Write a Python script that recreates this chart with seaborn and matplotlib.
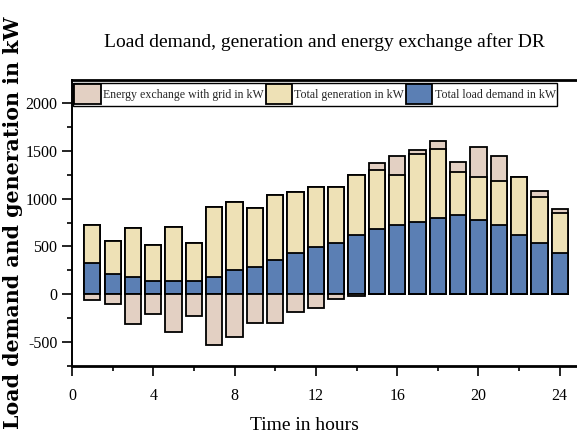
import numpy as np
import pandas as pd
import matplotlib
matplotlib.use("Agg")
import matplotlib.pyplot as plt
from matplotlib.ticker import MultipleLocator, FormatStrFormatter
import seaborn as sns

# Hourly profile after demand response (kW)
hours = list(range(1, 25))
load_kw = [325, 217, 178, 143, 143, 143, 178, 252, 287, 356, 433, 489,
           538, 615, 681, 720, 758, 800, 828, 772, 720, 615, 538, 433]
generation_kw = [398, 342, 514, 367, 559, 392, 737, 716, 614, 685, 636, 636,
                 587, 632, 622, 527, 713, 723, 447, 454, 461, 608, 479, 416]
exchange_kw = [-56, -105, -314, -203, -391, -227, -535, -447, -300, -300, -185, -147,
               -45, -21, 67, 196, 42, 77, 112, 315, 262, 0, 66, 42]

df = pd.DataFrame({"hour": hours, "load": load_kw,
                   "generation": generation_kw, "exchange": exchange_kw})
# Stacked layout: load at the bottom, generation above it, grid import on top,
# grid export hanging below zero.
df["gen_top"] = df["load"] + df["generation"]
df["import_top"] = df["gen_top"] + df["exchange"].clip(lower=0)
df["export"] = df["exchange"].clip(upper=0)

C_EXCH = "#E3D0C3"
C_GEN = "#EEE1B6"
C_LOAD = "#5B7FB4"

sns.set_theme(style="ticks")
plt.rcParams["font.family"] = ["Liberation Serif", "DejaVu Serif"]

fig = plt.figure(figsize=(5.77, 4.45), dpi=100)
ax = fig.add_axes([72 / 577, 1 - 366 / 445, 505 / 577, 286 / 445])

common = dict(x="hour", native_scale=True, width=0.8, errorbar=None,
              edgecolor="black", linewidth=1.3, saturation=1, ax=ax)
sns.barplot(data=df, y="import_top", color=C_EXCH,
            label="Energy exchange with grid in kW", **common)
sns.barplot(data=df, y="gen_top", color=C_GEN,
            label="Total generation in kW", **common)
sns.barplot(data=df, y="load", color=C_LOAD,
            label="Total load demand in kW", **common)
sns.barplot(data=df, y="export", color=C_EXCH, **common)

ax.set_xlim(0, 24.85)
ax.set_ylim(-750, 2240)
ax.xaxis.set_major_locator(MultipleLocator(4))
ax.xaxis.set_minor_locator(MultipleLocator(2))
ax.yaxis.set_major_locator(MultipleLocator(500))
ax.yaxis.set_minor_locator(MultipleLocator(250))
ax.xaxis.set_major_formatter(FormatStrFormatter("%d"))
ax.yaxis.set_major_formatter(FormatStrFormatter("%d"))
ax.tick_params(axis="both", which="major", direction="out", length=7,
               width=1.2, color="black", labelsize=11.5, labelcolor="black")
ax.tick_params(axis="both", which="minor", direction="out", length=3.5,
               width=1.2, color="black")
ax.tick_params(axis="x", which="major", pad=9)

for side in ["left", "bottom", "top"]:
    ax.spines[side].set_color("black")
ax.spines["left"].set_linewidth(1.4)
ax.spines["bottom"].set_linewidth(2.0)
ax.spines["top"].set_linewidth(2.0)
ax.spines["right"].set_visible(False)

ax.set_title("Load demand, generation and energy exchange after DR",
             fontsize=14, pad=24, color="black")
ax.set_xlabel("Time in hours", fontsize=14, color="black")
ax.xaxis.set_label_coords(0.461, -0.18)
ax.set_ylabel("Load demand and generation in kW", fontsize=14.8,
              family=["DejaVu Serif"], fontweight="bold", color="black")
ax.yaxis.set_label_coords(-0.097, 0.5)

leg = ax.legend(loc="upper left", bbox_to_anchor=(0.002, 0.99), ncol=3,
                fontsize=8.6, frameon=True, fancybox=False, framealpha=1,
                edgecolor="black", borderaxespad=0, borderpad=0.12,
                handlelength=2.2, handleheight=2.2, handletextpad=0.2,
                columnspacing=0.15)
leg.get_frame().set_linewidth(1.0)

fig.savefig("out.png", dpi=100)
